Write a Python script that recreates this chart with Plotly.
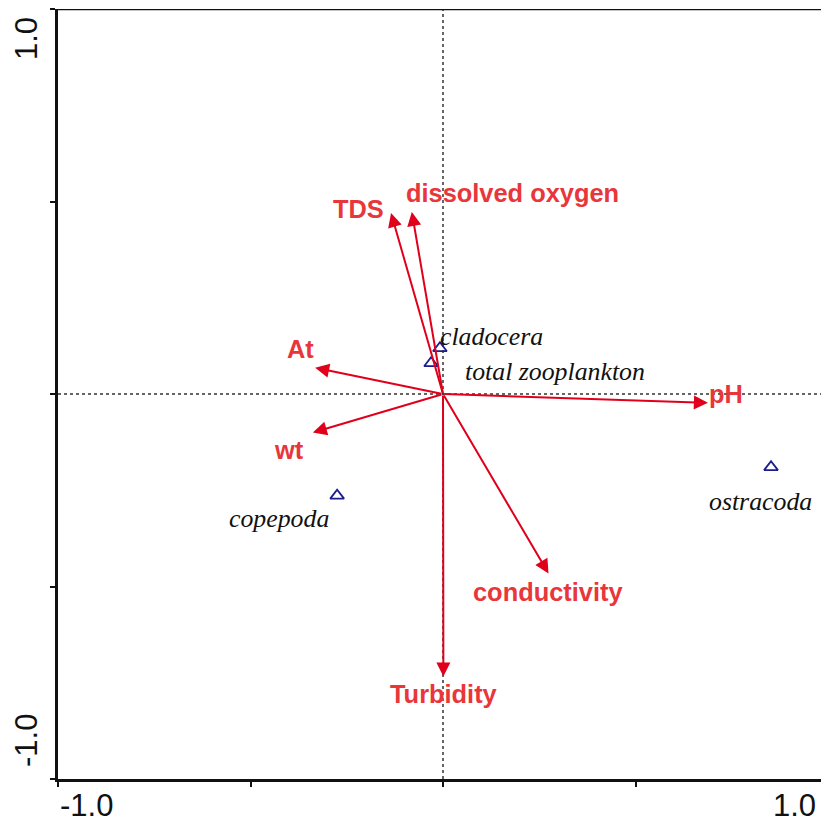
import plotly.graph_objects as go

# Environmental variable arrows (biplot scores)
env_names = ["pH", "TDS", "dissolved oxygen", "At", "wt", "conductivity", "Turbidity"]
env_x = [0.688, -0.135, -0.081, -0.332, -0.338, 0.274, 0.001]
env_y = [-0.023, 0.470, 0.473, 0.068, -0.100, -0.466, -0.734]

# Species scores
sp_names = ["cladocera", "total zooplankton", "copepoda", "ostracoda"]
sp_x = [-0.008, -0.031, -0.275, 0.852]
sp_y = [0.119, 0.080, -0.264, -0.190]

# axis tick values
tick_vals = [-1.0, -0.5, 0.0, 0.5, 1.0]

# label offsets in pixels (layout only)
env_offsets = {
    "pH": (18, 9), "TDS": (-33, 4), "dissolved oxygen": (101, 19), "At": (-15, 19),
    "wt": (-24, -17), "conductivity": (0, -19), "Turbidity": (0, -17),
}
sp_offsets = {
    "cladocera": (52, 12), "total zooplankton": (124, -8),
    "copepoda": (-58, -23), "ostracoda": (-11, -34),
}

ARROW = "#E0001B"
LABEL = "#E8363B"
NAVY = "#1C1C8C"

fig = go.Figure()
fig.add_trace(go.Scatter(
    x=sp_x, y=sp_y, mode="markers",
    marker=dict(symbol="triangle-up-open", size=12, color=NAVY, line=dict(width=1.8, color=NAVY)),
    hoverinfo="skip", showlegend=False, cliponaxis=False))

annotations = []
for n, x, y in zip(env_names, env_x, env_y):
    annotations.append(dict(
        x=x, y=y, ax=0, ay=0, xref="x", yref="y", axref="x", ayref="y",
        text="", showarrow=True, arrowhead=2, arrowsize=1.4, arrowwidth=2,
        arrowcolor=ARROW, standoff=0))
    dx, dy = env_offsets[n]
    annotations.append(dict(
        x=x, y=y, xref="x", yref="y", text=f"<b>{n}</b>", showarrow=False,
        xshift=dx, yshift=dy, xanchor="center", yanchor="middle",
        font=dict(family="Liberation Sans, Arial", size=25.4, color=LABEL)))

for n, x, y in zip(sp_names, sp_x, sp_y):
    dx, dy = sp_offsets[n]
    annotations.append(dict(
        x=x, y=y, xref="x", yref="y", text=f"<i>{n}</i>", showarrow=False,
        xshift=dx, yshift=dy, xanchor="center", yanchor="middle",
        font=dict(family="Liberation Serif, Times New Roman", size=25.8, color="#111111")))

# axis end labels
tick_font = dict(family="Liberation Sans, Arial", size=31, color="#111111")
annotations += [
    dict(x=-1.0, y=0, xref="x", yref="paper", text="-1.0", showarrow=False,
         xanchor="left", yanchor="top", xshift=0, yshift=-7, font=tick_font),
    dict(x=1.0, y=0, xref="paper", yref="paper", text="1.0", showarrow=False,
         xanchor="right", yanchor="top", xshift=-3, yshift=-7, font=tick_font),
    dict(x=0, y=1.0, xref="paper", yref="y", text="1.0", showarrow=False,
         textangle=-90, xanchor="right", yanchor="top", xshift=-12, yshift=-6, font=tick_font),
    dict(x=0, y=-1.0, xref="paper", yref="y", text="-1.0", showarrow=False,
         textangle=-90, xanchor="right", yanchor="bottom", xshift=-12, yshift=10, font=tick_font),
]

shapes = [
    dict(type="line", xref="x", yref="y", x0=0, x1=0, y0=-1, y1=1,
         line=dict(color="#333333", width=1.5, dash="dot"), layer="below"),
    dict(type="line", xref="paper", yref="y", x0=0, x1=1, y0=0, y1=0,
         line=dict(color="#333333", width=1.5, dash="dot"), layer="below"),
    dict(type="line", xref="paper", yref="y", x0=0, x1=1, y0=1, y1=1,
         line=dict(color="#111111", width=2.5)),
]

fig.update_layout(
    width=821, height=825,
    margin=dict(l=58, r=0, t=9, b=46),
    paper_bgcolor="white", plot_bgcolor="white",
    showlegend=False,
    annotations=annotations, shapes=shapes,
    xaxis=dict(range=[-1.0, -1.0 + 763 / 385], tickvals=tick_vals, showticklabels=False,
               ticks="outside", ticklen=5, tickwidth=2, tickcolor="#111111",
               showline=True, linewidth=2.5, linecolor="#111111",
               showgrid=False, zeroline=False, fixedrange=True),
    yaxis=dict(range=[-1.0, 1.0], tickvals=tick_vals, showticklabels=False,
               ticks="outside", ticklen=5, tickwidth=2, tickcolor="#111111",
               showline=True, linewidth=2.5, linecolor="#111111",
               showgrid=False, zeroline=False, fixedrange=True),
)

# remove the page's default body margin so the figure sits at the window's top-left corner
fig.write_html("out.html", config={"displayModeBar": False},
               post_script="document.body.style.margin='0';document.body.style.overflow='hidden';")
